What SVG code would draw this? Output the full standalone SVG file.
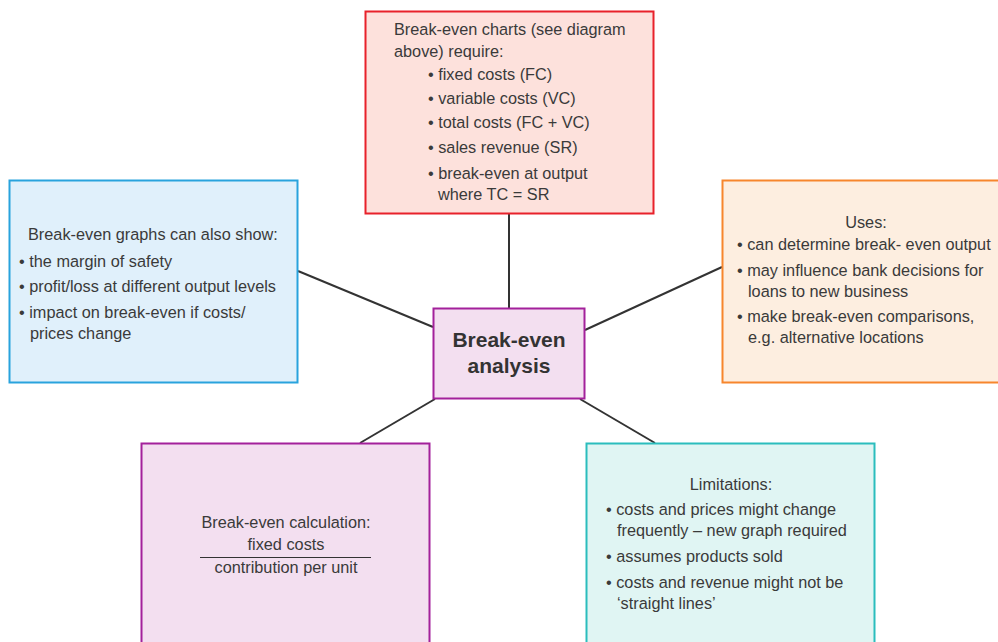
<svg xmlns="http://www.w3.org/2000/svg" width="998" height="642" viewBox="0 0 998 642">
  <style>
    .t { font-family: "Liberation Sans", Arial, sans-serif; font-size: 16.3px; fill: #3a3a3a; }
    .c { text-anchor: middle; }
    .b { font-family: "Liberation Sans", Arial, sans-serif; font-size: 21px; font-weight: bold; fill: #333333; text-anchor: middle; }
    .link { stroke: #333333; stroke-width: 2; fill: none; }
  </style>
  <rect width="998" height="642" fill="#ffffff"/>

  <g id="connectors">
    <line class="link" x1="509" y1="214" x2="509" y2="308"/>
    <line class="link" x1="298" y1="271" x2="433" y2="327"/>
    <line class="link" x1="722" y1="267" x2="585" y2="330"/>
    <line class="link" x1="360" y1="443" x2="435" y2="399"/>
    <line class="link" x1="580" y1="399" x2="655" y2="443"/>
  </g>

  <g id="charts">
    <rect x="365.5" y="11.5" width="288" height="202" fill="#fde1dc" stroke="#e8212b" stroke-width="2"/>
    <text class="t" x="394" y="35">Break-even charts (see diagram</text>
    <text class="t" x="394" y="57">above) require:</text>
    <text class="t" x="428" y="80">• fixed costs (FC)</text>
    <text class="t" x="428" y="104">• variable costs (VC)</text>
    <text class="t" x="428" y="128">• total costs (FC + VC)</text>
    <text class="t" x="428" y="153">• sales revenue (SR)</text>
    <text class="t" x="428" y="179">• break-even at output</text>
    <text class="t" x="438" y="200">where TC = SR</text>
  </g>

  <g id="graphs">
    <rect x="9.5" y="180.5" width="288" height="202" fill="#e0f0fb" stroke="#29a3dd" stroke-width="2"/>
    <text class="t" x="28" y="240">Break-even graphs can also show:</text>
    <text class="t" x="19" y="267">• the margin of safety</text>
    <text class="t" x="19" y="292">• profit/loss at different output levels</text>
    <text class="t" x="19" y="318">• impact on break-even if costs/</text>
    <text class="t" x="30" y="339">prices change</text>
  </g>

  <g id="uses">
    <rect x="722.5" y="180.5" width="290" height="202" fill="#fdeee0" stroke="#f7862d" stroke-width="2"/>
    <text class="t c" x="866" y="228">Uses:</text>
    <text class="t" x="737" y="250">• can determine break- even output</text>
    <text class="t" x="737" y="276">• may influence bank decisions for</text>
    <text class="t" x="748" y="297">loans to new business</text>
    <text class="t" x="737" y="322">• make break-even comparisons,</text>
    <text class="t" x="748" y="343">e.g. alternative locations</text>
  </g>

  <g id="analysis">
    <rect x="433.5" y="308.5" width="151" height="90" fill="#f3dff0" stroke="#a3219b" stroke-width="2"/>
    <text class="b" x="509" y="347">Break-even</text>
    <text class="b" x="509" y="373">analysis</text>
  </g>

  <g id="calculation">
    <rect x="141.5" y="443.5" width="288" height="210" fill="#f3dff0" stroke="#a3219b" stroke-width="2"/>
    <text class="t c" x="286" y="528">Break-even calculation:</text>
    <text class="t c" x="286" y="550">fixed costs</text>
    <line x1="200" y1="557.5" x2="371" y2="557.5" stroke="#333333" stroke-width="1.2"/>
    <text class="t c" x="286" y="573">contribution per unit</text>
  </g>

  <g id="limitations">
    <rect x="586.5" y="443.5" width="288" height="210" fill="#e0f5f3" stroke="#2bbdbd" stroke-width="2"/>
    <text class="t c" x="731" y="490">Limitations:</text>
    <text class="t" x="606" y="515">• costs and prices might change</text>
    <text class="t" x="617" y="536">frequently – new graph required</text>
    <text class="t" x="606" y="562">• assumes products sold</text>
    <text class="t" x="606" y="588">• costs and revenue might not be</text>
    <text class="t" x="617" y="609">‘straight lines’</text>
  </g>
</svg>
